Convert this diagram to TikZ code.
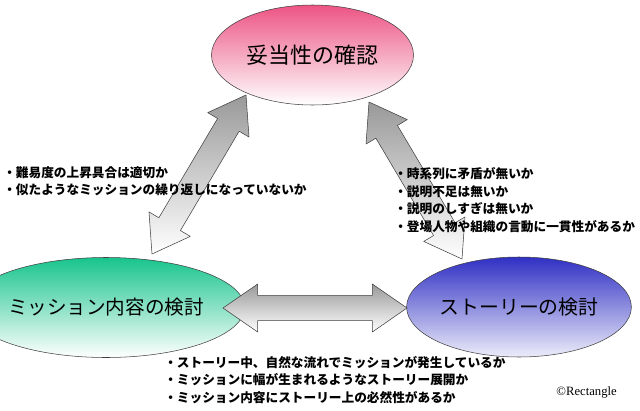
\documentclass[tikz,border=0pt]{standalone}
\usepackage{fontspec}
\setmainfont{Noto Sans CJK JP}
\newfontfamily\creditfont{Liberation Serif}
\usetikzlibrary{shapes.geometric,calc}
\definecolor{checkpink}{RGB}{236,84,132}
\definecolor{missiongreen}{RGB}{24,196,140}
\definecolor{storyblue}{RGB}{48,48,196}
\definecolor{storylight}{RGB}{236,236,250}
\begin{document}
\begin{tikzpicture}[x=0.75pt,y=-0.75pt,line join=round,
	bubble/.style={ellipse,draw=black!75,inner sep=0pt,minimum width=151.5pt,minimum height=75pt},
	blockarrow/.style={draw=black!75,top color=black!40,bottom color=white},
	note/.style={anchor=west,align=left,inner sep=0pt,font=\fontsize{9.5}{13.1}\selectfont\bfseries}]
	
	\useasboundingbox (0,0) rectangle (640,411);
	\def\arrhead{26pt}
	\def\arrwing{18pt}
	\def\arrshaft{9.4pt}
	\def\dblarrow#1#2{\draw[blockarrow] (#1) -- ($(#1)!\arrhead!(#2)!\arrwing!90:(#2)$) -- ($(#1)!\arrhead!(#2)!\arrshaft!90:(#2)$) -- ($(#2)!\arrhead!(#1)!\arrshaft!-90:(#1)$) -- ($(#2)!\arrhead!(#1)!\arrwing!-90:(#1)$) -- (#2) -- ($(#2)!\arrhead!(#1)!\arrwing!90:(#1)$) -- ($(#2)!\arrhead!(#1)!\arrshaft!90:(#1)$) -- ($(#1)!\arrhead!(#2)!\arrshaft!-90:(#2)$) -- ($(#1)!\arrhead!(#2)!\arrwing!-90:(#2)$) -- cycle;}
	
	\node[bubble,top color=checkpink,bottom color=white,font=\fontsize{16.5}{16.5}\selectfont] (check) at (312.5,55) {妥当性の確認};
	\node[bubble,top color=missiongreen,bottom color=white,font=\fontsize{14.7}{14.7}\selectfont] (mission) at (106,307.5) {ミッション内容の検討};
	\node[bubble,top color=storyblue,bottom color=storylight,font=\fontsize{14.9}{14.9}\selectfont] (story) at (519,307) {ストーリーの検討};
	
	\coordinate (cl) at (246,95); \coordinate (ml) at (152,254);
	\coordinate (cr) at (369,102); \coordinate (sr) at (462,259);
	\coordinate (mr) at (223,308); \coordinate (sl) at (407,308);
	\dblarrow{cl}{ml} % 確認 -- ミッション
	\dblarrow{cr}{sr} % 確認 -- ストーリー
	\dblarrow{mr}{sl} % ミッション -- ストーリー
	
	\node[note] (noteleft) at (3,181) {・難易度の上昇具合は適切か\\・似たようなミッションの繰り返しになっていないか};
	\node[note] (noteright) at (394,200) {・時系列に矛盾が無いか\\・説明不足は無いか\\・説明のしすぎは無いか\\・登場人物や組織の言動に一貫性があるか};
	\node[note] (notebottom) at (164,380) {・ストーリー中、自然な流れでミッションが発生しているか\\・ミッションに幅が生まれるようなストーリー展開か\\・ミッション内容にストーリー上の必然性があるか};
	\node[anchor=east,inner sep=0pt,font=\creditfont\fontsize{9.5}{11}\selectfont] (credit) at (617,392) {©Rectangle};
\end{tikzpicture}
\end{document}
